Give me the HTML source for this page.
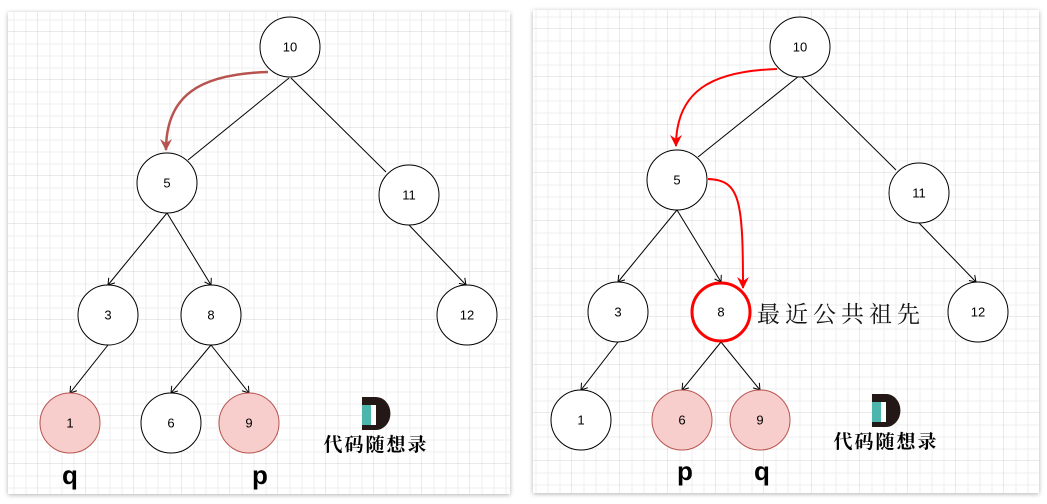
<!DOCTYPE html>
<html><head><meta charset="utf-8"><style>
body{margin:0;width:1047px;height:504px;background:#fff;overflow:hidden}
svg{display:block}
.n{font-family:"Liberation Sans",sans-serif;font-size:13px;text-anchor:middle;dominant-baseline:central}
.cj{font-family:"Liberation Serif","Noto Serif CJK SC",serif}
</style></head><body>
<svg width="1047" height="504" viewBox="0 0 1047 504">
<defs>
<pattern id="gl" x="-10" y="-16" width="48" height="48" patternUnits="userSpaceOnUse">
<path d="M12 0V48M24 0V48M36 0V48M0 12H48M0 24H48M0 36H48" stroke="#efefef" stroke-width="1"/>
<path d="M48 0V48M0 48H48" stroke="#d4d4d4" stroke-width="1"/>
</pattern>
<pattern id="gr" x="-4" y="-19" width="48" height="48" patternUnits="userSpaceOnUse">
<path d="M12 0V48M24 0V48M36 0V48M0 12H48M0 24H48M0 36H48" stroke="#efefef" stroke-width="1"/>
<path d="M48 0V48M0 48H48" stroke="#d4d4d4" stroke-width="1"/>
</pattern>
<filter id="sh" x="-5%" y="-5%" width="110%" height="110%"><feDropShadow dx="0" dy="1" stdDeviation="2.5" flood-opacity="0.3"/></filter>
<marker id="oa" markerWidth="10" markerHeight="10" refX="8" refY="5" orient="auto" markerUnits="userSpaceOnUse"><path d="M2 1L8 5L2 9" fill="none" stroke="#000" stroke-width="1"/></marker>
<marker id="ra" markerWidth="14" markerHeight="14" refX="11" refY="7" orient="auto" markerUnits="userSpaceOnUse"><path d="M0 1L12 7L0 13L4 7Z" fill="#b85450"/></marker>
<marker id="rr" markerWidth="14" markerHeight="14" refX="11" refY="7" orient="auto" markerUnits="userSpaceOnUse"><path d="M0 1L12 7L0 13L4 7Z" fill="#f00"/></marker>
</defs>
<rect x="8" y="12" width="502" height="482" fill="#fff" filter="url(#sh)"/>
<rect x="8" y="12" width="502" height="482" fill="url(#gl)"/>
<rect x="533" y="10" width="506" height="483" fill="#fff" filter="url(#sh)"/>
<rect x="533" y="10" width="506" height="483" fill="url(#gr)"/>

<g stroke="#000" stroke-width="1" fill="none">
<line x1="289" y1="78" x2="188" y2="160"/>
<line x1="291" y1="78" x2="386" y2="172"/>
<line x1="167" y1="213" x2="108" y2="285" marker-end="url(#oa)"/>
<line x1="167" y1="213" x2="211" y2="285" marker-end="url(#oa)"/>
<line x1="409" y1="225" x2="466" y2="285" marker-end="url(#oa)"/>
<line x1="108" y1="345" x2="70" y2="393" marker-end="url(#oa)"/>
<line x1="211" y1="345" x2="171" y2="393" marker-end="url(#oa)"/>
<line x1="211" y1="345" x2="249" y2="393" marker-end="url(#oa)"/>

<line x1="799" y1="76" x2="698" y2="157"/>
<line x1="801" y1="76" x2="896" y2="170"/>
<line x1="677" y1="210" x2="618" y2="282" marker-end="url(#oa)"/>
<line x1="677" y1="210" x2="721" y2="282" marker-end="url(#oa)"/>
<line x1="919" y1="223" x2="976" y2="282" marker-end="url(#oa)"/>
<line x1="618" y1="342" x2="581" y2="390" marker-end="url(#oa)"/>
<line x1="721" y1="342" x2="682" y2="390" marker-end="url(#oa)"/>
<line x1="721" y1="342" x2="760" y2="390" marker-end="url(#oa)"/>
</g>

<path d="M268 72 C200 74 166 95 166 150" stroke="#b85450" stroke-width="2.5" fill="none" marker-end="url(#ra)"/>
<path d="M777 69 C710 71 676 92 676 146" stroke="#f00" stroke-width="2" fill="none" marker-end="url(#rr)"/>
<path d="M708 179 C740 180 743 200 743 288" stroke="#f00" stroke-width="2" fill="none" marker-end="url(#rr)"/>

<g stroke="#000" stroke-width="1" fill="#fff">
<circle cx="290" cy="47" r="30"/><circle cx="167" cy="183" r="30"/><circle cx="409" cy="195" r="30"/>
<circle cx="108" cy="315" r="30"/><circle cx="211" cy="315" r="30"/><circle cx="467" cy="315" r="30"/>
<circle cx="171" cy="423" r="30"/>
<circle cx="800" cy="47" r="30"/><circle cx="677" cy="180" r="30"/><circle cx="919" cy="193" r="30"/>
<circle cx="618" cy="312" r="30"/><circle cx="978" cy="312" r="30"/>
<circle cx="581" cy="420" r="30"/>
</g>
<g stroke="#b85450" stroke-width="1" fill="#f8cecc">
<circle cx="70" cy="423" r="30"/><circle cx="249" cy="423" r="30"/>
<circle cx="682" cy="420" r="30"/><circle cx="760" cy="420" r="30"/>
</g>
<circle cx="721" cy="312" r="29" fill="#fff" stroke="#f00" stroke-width="3"/>

<g class="n">
<text x="290" y="47">10</text><text x="167" y="183">5</text><text x="409" y="195">11</text>
<text x="108" y="315">3</text><text x="211" y="315">8</text><text x="467" y="315">12</text>
<text x="70" y="423">1</text><text x="171" y="423">6</text><text x="249" y="423">9</text>
<text x="800" y="47">10</text><text x="677" y="180">5</text><text x="919" y="193">11</text>
<text x="618" y="312">3</text><text x="721" y="312">8</text><text x="978" y="312">12</text>
<text x="581" y="420">1</text><text x="682" y="420">6</text><text x="760" y="420">9</text>
</g>

<g font-family="Liberation Sans,sans-serif" font-size="26" font-weight="bold" text-anchor="middle">
<text x="70" y="484">q</text><text x="260" y="484">p</text>
<text x="685" y="480">p</text><text x="762" y="480">q</text>
</g>
<text x="757" y="322" class="cj" font-size="23" letter-spacing="5" fill="#111">最近公共祖先</text>

<g>
<path d="M362 397H376A14 16 0 0 1 376 430H362Z" fill="#231815"/>
<rect x="362" y="405" width="9" height="20" fill="#4db6ac"/>
<rect x="371" y="405" width="5" height="20" fill="#fff"/>
<text x="376" y="451" class="cj" font-size="19" font-weight="bold" letter-spacing="2" text-anchor="middle">代码随想录</text>
<path d="M872 394H886A14 16 0 0 1 886 427H872Z" fill="#231815"/>
<rect x="872" y="402" width="9" height="20" fill="#4db6ac"/>
<rect x="881" y="402" width="5" height="20" fill="#fff"/>
<text x="886" y="448" class="cj" font-size="19" font-weight="bold" letter-spacing="2" text-anchor="middle">代码随想录</text>
</g>
</svg>
</body></html>
